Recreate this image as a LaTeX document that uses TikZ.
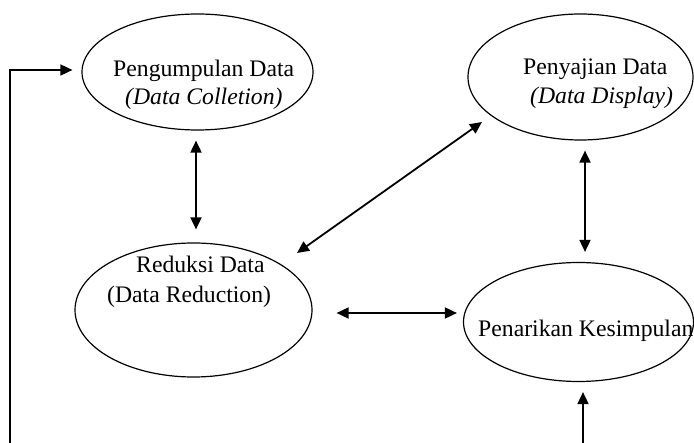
\documentclass[tikz,border=0pt]{standalone}
\usepackage{fontspec}
\setmainfont{Liberation Serif}
\usetikzlibrary{shapes.geometric,arrows.meta}
\tikzset{
  oval/.style={ellipse, draw, line width=1.2pt, inner sep=0pt},
  lbl/.style={inner sep=0pt, anchor=base west, font=\fontsize{23.7}{28}\selectfont},
  conn/.style={line width=1.8pt, -{Triangle[length=12pt,width=11pt]}},
  dbl/.style={line width=1.8pt, {Triangle[length=12pt,width=11pt]}-{Triangle[length=12pt,width=11pt]}},
  feed/.style={line width=1.6pt, -{Triangle[length=12pt,width=11pt]}}
}
\begin{document}
\begin{tikzpicture}[x=1pt,y=-1pt]
\useasboundingbox (0,0) rectangle (694,443);
\fill[white] (0,0) rectangle (694,443);
% ellipses
\node[oval, minimum width=231pt, minimum height=116pt] (peng) at (197.5,72) {};
\node[oval, minimum width=225pt, minimum height=126pt] (pen) at (580.5,77) {};
\node[oval, minimum width=237pt, minimum height=134pt] (red) at (193.5,310) {};
\node[oval, minimum width=230pt, minimum height=119pt] (tar) at (578.5,322) {};
% texts
\node[lbl] (t1) at (113,77) {Pengumpulan Data};
\node[lbl] (t2) at (125,105) {\textit{(Data Colletion)}};
\node[lbl] (t3) at (523,75) {Penyajian Data};
\node[lbl] (t4) at (530,104) {\textit{(Data Display)}};
\node[lbl] (t5) at (136,273) {Reduksi Data};
\node[lbl] (t6) at (107,303) {(Data Reduction)};
\node[lbl] (t7) at (478,337) {Penarikan Kesimpulan};
% connectors
\draw[dbl, shorten <=10pt, shorten >=13pt] ([xshift=-1.5pt]peng.south) -- ([xshift=-1.5pt]peng.south |- red.north);
\draw[dbl, shorten <=10pt, shorten >=10pt] ([xshift=4.5pt]pen.south) -- ([xshift=4.5pt]pen.south |- tar.north);
\draw[dbl] ([shift={(103.5,-57)}]red.center) -- ([shift={(-98.5,45)}]pen.center);
\draw[dbl] ([shift={(24,3)}]red.east) -- ([shift={(-6,-9)}]tar.west);
\coordinate (fb) at (10,443);
\draw[feed] (fb) |- ([shift={(-9,-2)}]peng.west);
\coordinate (bt) at (583,443);
\draw[conn, shorten >=10pt] (bt) -- (bt |- tar.south);
\end{tikzpicture}
\end{document}
